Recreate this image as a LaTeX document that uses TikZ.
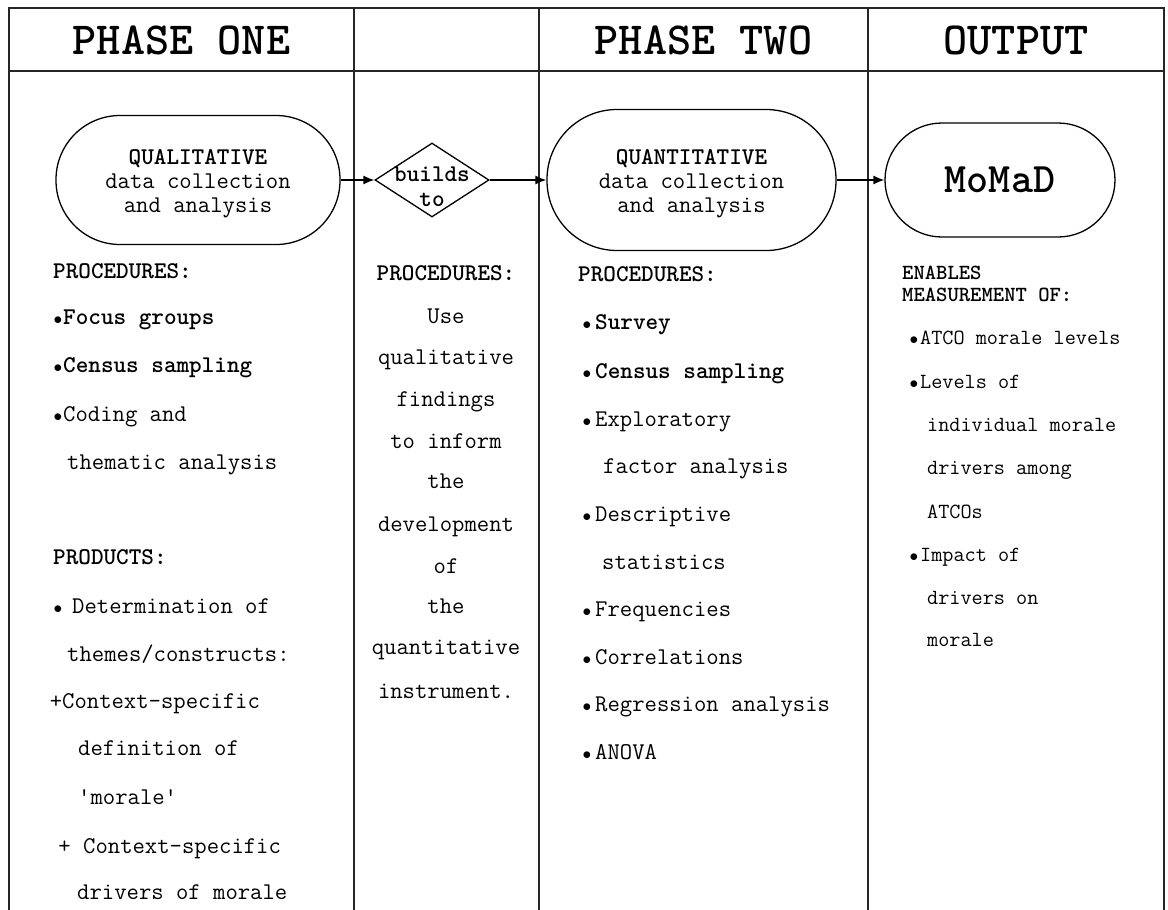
\documentclass[tikz,border=0pt]{standalone}
\usetikzlibrary{arrows.meta,shapes.geometric}

% small bullet hung to the left of an item
\newcommand\bul[1][1pt]{\llap{{\fontsize{19}{19}\selectfont$\bullet$}\hspace{#1}}}

\tikzset{
  rule/.style={line width=1.6pt, black!85},
  stadium/.style={draw, line width=1.3pt, inner sep=0pt},
  inside/.style={align=center, inner sep=0pt, font=\ttfamily\fontsize{24}{24}\selectfont},
  head/.style={font=\ttfamily\bfseries\fontsize{46}{46}\selectfont, inner sep=0pt},
  body/.style={font=\ttfamily\fontsize{24}{24}\selectfont, inner sep=0pt, anchor=mid west},
  mbody/.style={font=\ttfamily\fontsize{24}{24}\selectfont, inner sep=0pt, anchor=mid},
  sbody/.style={font=\ttfamily\fontsize{21.6}{21.6}\selectfont, inner sep=0pt, anchor=mid west},
  link/.style={line width=1.4pt, -{Latex[length=11pt,width=9pt]}},
}

\begin{document}
\begin{tikzpicture}[x=1pt,y=-1pt]
\useasboundingbox (0,0) rectangle (1168,910);
\fill[white] (0,0) rectangle (1168,910);

% table frame
\draw[rule] (9,910) -- (9,8) -- (1164,8) -- (1164,910);
\draw[rule] (9,71) -- (1164,71);
\draw[rule] (354,8) -- (354,910);
\draw[rule] (539,8) -- (539,910);
\draw[rule] (868,8) -- (868,910);

% column headings
\node[head] (h1) at (181.5,40) {PHASE ONE};
\node[head] (h3) at (703.5,40) {PHASE TWO};
\node[head] (h4) at (1016,40) {OUTPUT};

% flow shapes
\node[stadium, rounded corners=64pt, minimum width=284pt, minimum height=129pt]
  (qual) at (198,180) {};
\node[inside] (qualtext) at (198,184) {\textbf{QUALITATIVE}\\data collection\\and analysis};
\node[draw, diamond, line width=1.3pt, inner sep=0pt,
  minimum width=114pt, minimum height=74pt] (bt) at (432,180) {};
\node[inside, font=\ttfamily\bfseries\fontsize{24}{25}\selectfont]
  (bttext) at (432,187) {builds\\to};
\node[stadium, rounded corners=70pt, minimum width=289pt, minimum height=141pt]
  (quant) at (691.5,180) {};
\node[inside] (quanttext) at (691.5,184) {\textbf{QUANTITATIVE}\\data collection\\and analysis};
\node[stadium, rounded corners=57pt, minimum width=230pt, minimum height=114pt,
  font=\ttfamily\bfseries\fontsize{42}{42}\selectfont] (momad) at (1000,180) {MoMaD};

\draw[link] (qual) -- (bt);
\draw[link] (bt) -- (quant);
\draw[link] (quant) -- (momad);

% phase one lists
\foreach \x/\y/\t [count=\i] in {
  53/276/{\textbf{PROCEDURES:}},
  63/322/{\bul\textbf{Focus groups}},
  63/370/{\bul\textbf{Census sampling}},
  63/419/{\bul Coding and},
  67/467/{thematic analysis},
  53/562/{\textbf{PRODUCTS:}},
  72/611/{\bul[10pt]Determination of},
  67/659/{themes/constructs:},
  62/706/{\llap{+}Context-specific},
  78/753/{definition of},
  78/802/{\textquotesingle morale\textquotesingle},
  83/851/{\llap{+\ }Context-specific},
  77/897/{drivers of morale}}
  \node[body] (p1-\i) at (\x,\y) {\t};

% bridging procedure
\foreach \y/\t [count=\i] in {
  278/{\textbf{PROCEDURES:}}, 321/Use, 362/qualitative, 404/findings,
  446/to inform, 486/the, 529/development, 571/of, 611/the,
  652/quantitative, 696/instrument.}
  \node[mbody] (b-\i) at (446,\y) {\t};

% phase two procedures
\foreach \x/\y/\t [count=\i] in {
  578/279/{\textbf{PROCEDURES:}},
  595/327/{\bul[4pt]\textbf{Survey}},
  595/376/{\bul[4pt]\textbf{Census sampling}},
  595/424/{\bul[4pt]Exploratory},
  603/471/{factor analysis},
  595/519/{\bul[4pt]Descriptive},
  602/567/{statistics},
  595/614/{\bul[4pt]Frequencies},
  595/662/{\bul[4pt]Correlations},
  595/709/{\bul[4pt]Regression analysis},
  595/757/{\bul[4pt]ANOVA}}
  \node[body] (p2-\i) at (\x,\y) {\t};

% output measures
\foreach \x/\y/\t [count=\i] in {
  902/277/{\textbf{ENABLES}},
  902/299/{\textbf{MEASUREMENT OF:}},
  920/342/{\bul[2pt]ATCO morale levels},
  920/386/{\bul[2pt]Levels of},
  927/429/{individual morale},
  927/472/{drivers among},
  927/516/{ATCOs},
  920/559/{\bul[2pt]Impact of},
  927/602/{drivers on},
  927/644/{morale}}
  \node[sbody] (o-\i) at (\x,\y) {\t};
\end{tikzpicture}
\end{document}
